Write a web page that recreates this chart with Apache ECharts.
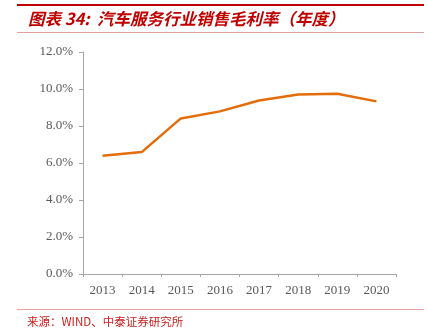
<!DOCTYPE html>
<html>
<head>
<meta charset="utf-8">
<script src="https://cdn.jsdelivr.net/npm/echarts@6/dist/echarts.min.js"></script>
<style>
  html, body { margin: 0; padding: 0; background: #fff; }
  #chart { width: 428px; height: 332px; }
</style>
</head>
<body>
<div id="chart"></div>
<script>
// Gross sales margin of the auto service industry, yearly (%)
const years = ['2013', '2014', '2015', '2016', '2017', '2018', '2019', '2020'];
const grossMargin = [6.39, 6.59, 8.41, 8.79, 9.38, 9.70, 9.74, 9.33];
const yTicks = { min: 0, max: 12, interval: 2 };

const titleText = '图表 34:  汽车服务行业销售毛利率（年度）';
const sourceText = '来源：WIND、中泰证券研究所';

const chart = echarts.init(document.getElementById('chart'));
chart.setOption({
  animation: false,
  backgroundColor: '#ffffff',
  grid: { left: 83, right: 32, top: 52, bottom: 58, containLabel: false },
  xAxis: {
    type: 'category',
    data: years,
    boundaryGap: true,
    axisLine: { lineStyle: { color: '#a6a6a6', width: 1 } },
    axisTick: { show: true, length: 3, lineStyle: { color: '#a6a6a6' } },
    axisLabel: {
      color: '#595959',
      fontFamily: 'Liberation Serif',
      fontSize: 13,
      margin: 10
    }
  },
  yAxis: {
    type: 'value',
    min: yTicks.min,
    max: yTicks.max,
    interval: yTicks.interval,
    axisLine: { show: true, lineStyle: { color: '#a6a6a6', width: 1 } },
    axisTick: { show: true, length: 4, lineStyle: { color: '#a6a6a6' } },
    splitLine: { show: false },
    axisLabel: {
      color: '#595959',
      fontFamily: 'Liberation Serif',
      fontSize: 13,
      margin: 10,
      formatter: v => v.toFixed(1) + '%'
    }
  },
  series: [{
    type: 'line',
    data: grossMargin,
    symbol: 'none',
    lineStyle: { color: '#E46C0A', width: 2.5 },
    itemStyle: { color: '#E46C0A' }
  }],
  graphic: [
    { type: 'rect', shape: { x: 17, y: 4, width: 407, height: 2 }, style: { fill: '#c00000' } },
    {
      type: 'text', left: 28, top: 10,
      style: {
        text: titleText,
        fill: '#c00000',
        font: 'italic bold 16.5px "Noto Sans CJK SC", sans-serif'
      }
    },
    { type: 'rect', shape: { x: 17, y: 32, width: 407, height: 1 }, style: { fill: '#e6a0a0' } },
    { type: 'rect', shape: { x: 17, y: 309, width: 407, height: 1 }, style: { fill: '#eba4a4' } },
    {
      type: 'text', left: 27, top: 316,
      style: {
        text: sourceText,
        fill: '#c81e1e',
        font: '11.5px "Noto Sans CJK SC", sans-serif'
      }
    }
  ]
});
</script>
</body>
</html>
